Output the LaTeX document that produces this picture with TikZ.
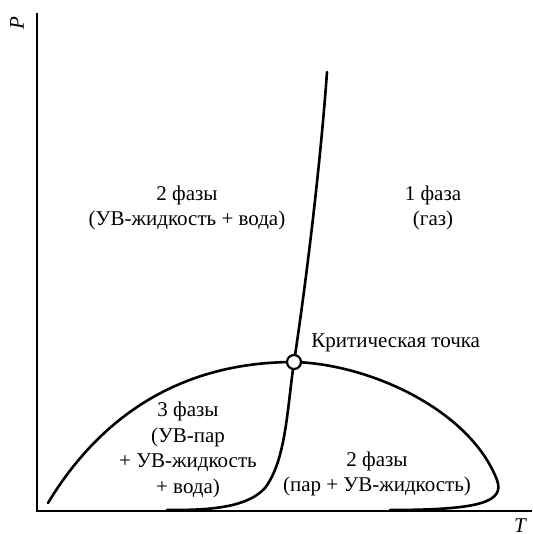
\documentclass[tikz,border=0pt]{standalone}
\usepackage{fontspec}
\setmainfont{Liberation Serif}
\begin{document}
\begin{tikzpicture}[x=0.5pt,y=-0.5pt,
  axis/.style={line width=0.65pt},
  phase/.style={line width=1.3pt,line cap=round},
  lbl/.style={align=center,font=\fontsize{10.5}{12.8}\selectfont,inner sep=0pt},
  crit/.style={circle,draw,line width=1.1pt,fill=white,minimum size=7pt,inner sep=0pt}]
\useasboundingbox (0,0) rectangle (532,534);
\coordinate (o) at (37,511);
\coordinate (ytop) at (37,13);
\coordinate (xend) at (532,511);
\draw[axis] (ytop) -- (o) -- (xend);
\node[lbl,rotate=90,font=\itshape\fontsize{10.5}{12.8}\selectfont] (P) at (17,23) {P};
\node[lbl,font=\itshape\fontsize{10.5}{12.8}\selectfont] (T) at (520,526) {T};
\coordinate (c1top) at (327,72);
\coordinate (c1mid) at (265,488);
\coordinate (c1end) at (167,510);
\coordinate (c2start) at (48,503);
\coordinate (c2right) at (497,480);
\coordinate (c2end) at (390,510);
% curve 1 (steep)
\draw[phase] (c1top) .. controls (320,170) and (305,290) .. (294,362)
  .. controls (287,410) and (286,460) .. (c1mid)
  .. controls (245,510) and (200,510) .. (c1end);
% curve 2 (dome)
\draw[phase] (c2start) .. controls (95,425) and (172,362) .. (294,362)
  .. controls (370,364) and (470,410) .. (c2right)
  .. controls (505,502) and (480,510) .. (c2end);
\node[crit] (cp) at (294,362) {};
\node[lbl,anchor=west] (cpl) at (311,343) {Критическая точка};
\node[lbl] (a) at (187,208) {2 фазы\\(УВ-жидкость + вода)};
\node[lbl] (b) at (433,208) {1 фаза\\(газ)};
\node[lbl] (c) at (188,450) {3 фазы\\(УВ-пар\\+ УВ-жидкость\\+ вода)};
\node[lbl] (d) at (377,474) {2 фазы\\(пар + УВ-жидкость)};
\end{tikzpicture}
\end{document}
